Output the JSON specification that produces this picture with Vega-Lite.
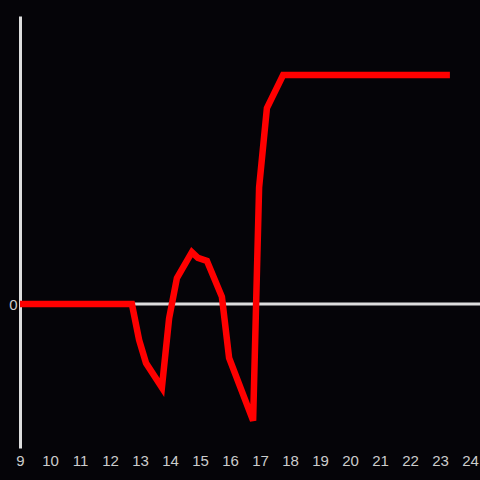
{
  "$schema": "https://vega.github.io/schema/vega-lite/v6.json",
  "width": 460,
  "height": 432,
  "autosize": {"type": "none"},
  "padding": {"left": 20, "top": 16, "right": 0, "bottom": 32},
  "background": "#050408",
  "config": {"view": {"stroke": null}},
  "data": {"values": [
    {"hour": 9.0, "value": 0},
    {"hour": 12.73, "value": 0},
    {"hour": 12.97, "value": -0.25},
    {"hour": 13.2, "value": -0.41},
    {"hour": 13.73, "value": -0.58},
    {"hour": 13.97, "value": -0.1},
    {"hour": 14.23, "value": 0.18},
    {"hour": 14.73, "value": 0.36},
    {"hour": 14.93, "value": 0.32},
    {"hour": 15.23, "value": 0.3},
    {"hour": 15.73, "value": 0.05},
    {"hour": 15.97, "value": -0.375},
    {"hour": 16.77, "value": -0.81},
    {"hour": 16.97, "value": 0.81},
    {"hour": 17.23, "value": 1.36},
    {"hour": 17.77, "value": 1.59},
    {"hour": 23.33, "value": 1.59}
  ]},
  "layer": [
    {
      "data": {"values": [{"z": 0}]},
      "mark": {"type": "rule", "color": "#dddddd", "strokeWidth": 3},
      "encoding": {"y": {"field": "z", "type": "quantitative"}}
    },
    {
      "mark": {"type": "line", "color": "#ff0000", "strokeWidth": 6.5, "strokeJoin": "miter"},
      "encoding": {
        "x": {
          "field": "hour", "type": "quantitative",
          "scale": {"domain": [9, 24.3333], "nice": false, "zero": false},
          "axis": {"title": null, "values": [9,10,11,12,13,14,15,16,17,18,19,20,21,22,23,24], "format": "d", "domain": false, "ticks": false, "grid": false, "labelColor": "#cccccc", "labelFontSize": 15, "labelFont": "Liberation Sans", "labelPadding": 5, "labelFlush": false}
        },
        "y": {
          "field": "value", "type": "quantitative",
          "scale": {"domain": [-1, 2], "nice": false},
          "axis": {"title": null, "values": [0], "format": "d", "domain": true, "domainColor": "#dddddd", "domainWidth": 3, "ticks": false, "grid": false, "labelColor": "#cccccc", "labelFontSize": 15, "labelFont": "Liberation Sans", "labelPadding": 3}
        }
      }
    }
  ]
}
